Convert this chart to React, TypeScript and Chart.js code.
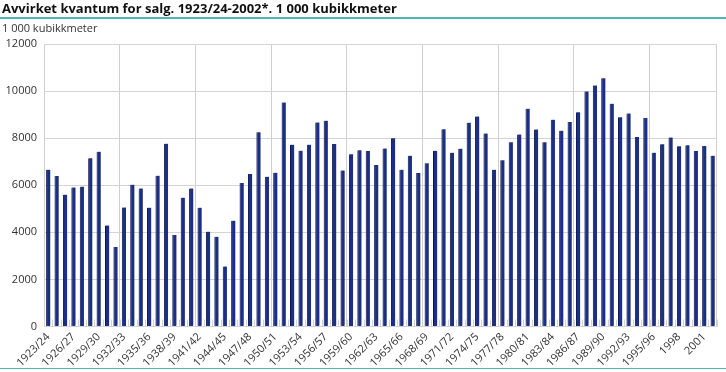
import React, { useEffect, useRef } from 'react';
import { Chart, registerables } from 'chart.js';

Chart.register(...registerables);

const titleText = 'Avvirket kvantum for salg. 1923/24-2002*. 1 000 kubikkmeter';
const unitText = '1 000 kubikkmeter';

const categories = [
  '1923/24', '1924/25', '1925/26', '1926/27', '1927/28', '1928/29', '1929/30', '1930/31', '1931/32', '1932/33',
  '1933/34', '1934/35', '1935/36', '1936/37', '1937/38', '1938/39', '1939/40', '1940/41', '1941/42', '1942/43',
  '1943/44', '1944/45', '1945/46', '1946/47', '1947/48', '1948/49', '1949/50', '1950/51', '1951/52', '1952/53',
  '1953/54', '1954/55', '1955/56', '1956/57', '1957/58', '1958/59', '1959/60', '1960/61', '1961/62', '1962/63',
  '1963/64', '1964/65', '1965/66', '1966/67', '1967/68', '1968/69', '1969/70', '1970/71', '1971/72', '1972/73',
  '1973/74', '1974/75', '1975/76', '1976/77', '1977/78', '1978/79', '1979/80', '1980/81', '1981/82', '1982/83',
  '1983/84', '1984/85', '1985/86', '1986/87', '1987/88', '1988/89', '1989/90', '1990/91', '1991/92', '1992/93',
  '1993/94', '1994/95', '1995/96', '1996', '1997', '1998', '1999', '2000', '2001', '2002',
];

const values = [
  6660, 6390, 5600, 5900, 5940, 7150, 7420, 4290, 3380, 5060,
  6020, 5860, 5040, 6400, 7760, 3890, 5470, 5860, 5040, 4030,
  3810, 2550, 4490, 6100, 6480, 8250, 6360, 6530, 9510, 7720,
  7470, 7720, 8670, 8740, 7750, 6630, 7320, 7490, 7450, 6860,
  7560, 8000, 6660, 7250, 6520, 6930, 7470, 8380, 7380, 7550,
  8650, 8920, 8200, 6660, 7060, 7830, 8160, 9250, 8370, 7830,
  8780, 8310, 8690, 9100, 9980, 10240, 10550, 9460, 8890, 9050,
  8050, 8860, 7380, 7745, 8030, 7660, 7700, 7460, 7670, 7250,
];

const yMin = 0;
const yMax = 12000;
const yStep = 2000;
const labelEvery = 3;
const gridEvery = 9;

const FONT = "'Open Sans', 'DejaVu Sans', sans-serif";

const barEffects = {
  id: 'barEffects',
  beforeDatasetsDraw(chart: any) {
    const x = chart.scales.x;
    const area = chart.chartArea;
    const ctx = chart.ctx;
    const step = x.getPixelForValue(1) - x.getPixelForValue(0);
    ctx.save();
    ctx.strokeStyle = '#d2d2d2';
    ctx.lineWidth = 1;
    for (let i = 0; i <= categories.length; i++) {
      const px = Math.round(x.getPixelForValue(i) - step / 2) + 0.5;
      ctx.beginPath();
      ctx.moveTo(px, area.bottom - 7);
      ctx.lineTo(px, area.bottom);
      ctx.stroke();
    }
    ctx.restore();
    ctx.save();
    ctx.shadowColor = 'rgba(0,0,0,0.45)';
    ctx.shadowOffsetX = 1;
    ctx.shadowOffsetY = -1;
    ctx.shadowBlur = 0;
  },
  afterDatasetsDraw(chart: any) {
    chart.ctx.restore();
  },
};

export default function App() {
  const ref = useRef<HTMLCanvasElement | null>(null);

  useEffect(() => {
    if (!ref.current) return;
    const chart = new Chart(ref.current, {
      type: 'bar',
      data: {
        labels: categories,
        datasets: [
          {
            data: values,
            backgroundColor: '#1b2f88',
            borderColor: '#0b164f',
            borderWidth: { left: 1, right: 0, top: 0, bottom: 0 },
            borderSkipped: false,
            categoryPercentage: 1,
            barPercentage: 0.5,
          },
        ],
      },
      plugins: [barEffects],
      options: {
        animation: false,
        responsive: false,
        maintainAspectRatio: false,
        devicePixelRatio: 1,
        layout: { padding: { top: 44, left: 0, right: 3.5, bottom: 0 } },
        plugins: {
          legend: { display: false },
          tooltip: { enabled: false },
          title: { display: false },
        },
        scales: {
          x: {
            offset: true,
            grid: {
              offset: true,
              drawTicks: false,
              lineWidth: 1,
              color: (ctx: any) =>
                ctx.type !== 'tick' || ctx.index % gridEvery === 0 ? '#cfcfcf' : 'rgba(0,0,0,0)',
            },
            border: { display: false },
            ticks: {
              autoSkip: false,
              minRotation: 45,
              maxRotation: 45,
              padding: 4,
              color: '#333333',
              font: { family: FONT, size: 11 },
              callback: (_v: any, i: number) => (i % labelEvery === 0 ? categories[i] : ''),
            },
            afterFit: (scale: any) => {
              scale.height = 45.5;
            },
          },
          y: {
            min: yMin,
            max: yMax,
            grid: { drawTicks: false, color: '#d4d4d4', lineWidth: 1 },
            border: { display: false },
            ticks: {
              stepSize: yStep,
              padding: 7,
              color: '#333333',
              font: { family: FONT, size: 11 },
              callback: (v: any) => String(v),
            },
            afterFit: (scale: any) => {
              scale.width = 44;
            },
          },
        },
      },
    });
    return () => chart.destroy();
  }, []);

  return (
    <div style={{ position: 'absolute', left: 0, top: 0, width: 726, height: 372, background: '#fff', overflow: 'hidden' }}>
      <canvas ref={ref} width={726} height={372} style={{ position: 'absolute', left: 0, top: 0, width: 726, height: 372 }} />
      <div
        style={{
          position: 'absolute', left: 2, top: 0, fontFamily: FONT, fontWeight: 700, fontSize: 13,
          lineHeight: '16px', color: '#111', whiteSpace: 'nowrap',
        }}
      >
        {titleText}
      </div>
      <div style={{ position: 'absolute', left: 0, top: 17, width: 726, height: 1.5, background: '#4fb6b4' }} />
      <div
        style={{
          position: 'absolute', left: 2, top: 21, fontFamily: FONT, fontSize: 11, lineHeight: '14px',
          color: '#333', whiteSpace: 'nowrap',
        }}
      >
        {unitText}
      </div>
      <div style={{ position: 'absolute', left: 0, top: 367.5, width: 726, height: 1.5, background: '#4fb6b4' }} />
    </div>
  );
}
